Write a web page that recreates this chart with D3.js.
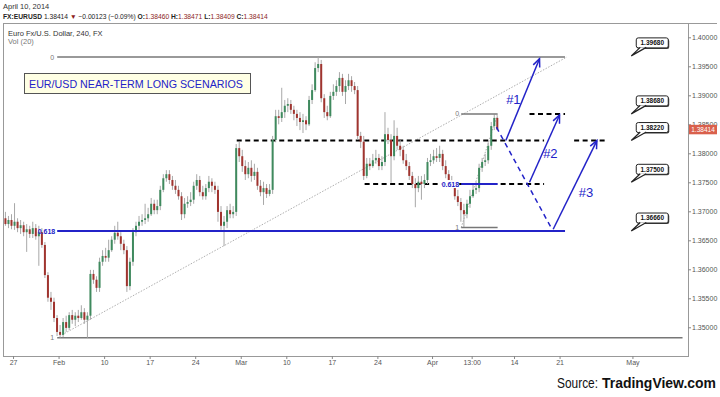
<!DOCTYPE html>
<html><head><meta charset="utf-8">
<script src="https://cdn.jsdelivr.net/npm/d3@7"></script>
<style>
html,body{margin:0;padding:0;background:#fff;}
svg{display:block;font-family:"Liberation Sans",Arial,sans-serif;}
</style></head><body>
<svg id="c" width="720" height="397"></svg>
<script>
// ---------- DATA ----------
// 8-hour candles [open, high, low, close], starting Fri Jan 24, 2014
const candles = [
[1.3688,1.3699,1.3675,1.3678],[1.3678,1.3692,1.3671,1.3685],[1.3685,1.3695,1.3669,1.3675],[1.3675,1.3714,1.3668,1.3682],
[1.3682,1.3688,1.3664,1.3671],[1.3671,1.3685,1.3661,1.3676],[1.3676,1.3682,1.3657,1.3664],[1.3664,1.3678,1.3630,1.3669],
[1.3669,1.3675,1.3654,1.3661],[1.3661,1.3682,1.3654,1.3671],[1.3671,1.3678,1.3651,1.3657],[1.3657,1.3675,1.3606,1.3664],
[1.3664,1.3671,1.3637,1.3642],[1.3642,1.3647,1.3585,1.3590],[1.3590,1.3595,1.3544,1.3551],[1.3551,1.3561,1.3530,1.3544],
[1.3544,1.3551,1.3509,1.3516],[1.3516,1.3521,1.3485,1.3492],[1.3492,1.3504,1.3482,1.3487],[1.3487,1.3516,1.3483,1.3509],
[1.3509,1.3520,1.3492,1.3499],[1.3499,1.3526,1.3495,1.3521],[1.3521,1.3530,1.3506,1.3513],[1.3513,1.3526,1.3502,1.3520],
[1.3520,1.3530,1.3509,1.3516],[1.3516,1.3538,1.3513,1.3526],[1.3526,1.3533,1.3506,1.3513],[1.3513,1.3526,1.3482,1.3520],
[1.3520,1.3599,1.3513,1.3592],[1.3592,1.3599,1.3575,1.3582],[1.3582,1.3588,1.3561,1.3568],[1.3568,1.3620,1.3561,1.3613],
[1.3613,1.3633,1.3606,1.3623],[1.3623,1.3637,1.3613,1.3620],[1.3620,1.3651,1.3613,1.3633],[1.3633,1.3657,1.3630,1.3651],
[1.3651,1.3675,1.3644,1.3663],[1.3663,1.3682,1.3651,1.3657],[1.3657,1.3664,1.3633,1.3644],[1.3644,1.3651,1.3626,1.3633],
[1.3633,1.3640,1.3561,1.3571],[1.3571,1.3620,1.3564,1.3613],[1.3613,1.3671,1.3606,1.3664],[1.3664,1.3682,1.3657,1.3675],
[1.3675,1.3692,1.3668,1.3682],[1.3682,1.3695,1.3675,1.3685],[1.3685,1.3713,1.3678,1.3688],[1.3688,1.3706,1.3682,1.3695],
[1.3695,1.3723,1.3692,1.3713],[1.3713,1.3720,1.3695,1.3702],[1.3702,1.3720,1.3695,1.3709],[1.3709,1.3744,1.3702,1.3737],
[1.3737,1.3764,1.3733,1.3757],[1.3757,1.3771,1.3751,1.3764],[1.3764,1.3771,1.3747,1.3754],[1.3754,1.3761,1.3737,1.3744],
[1.3744,1.3754,1.3730,1.3737],[1.3737,1.3744,1.3720,1.3726],[1.3726,1.3733,1.3685,1.3695],[1.3695,1.3723,1.3688,1.3713],
[1.3713,1.3726,1.3706,1.3716],[1.3716,1.3733,1.3709,1.3720],[1.3720,1.3751,1.3713,1.3744],[1.3744,1.3764,1.3737,1.3754],
[1.3754,1.3761,1.3726,1.3733],[1.3733,1.3744,1.3720,1.3726],[1.3726,1.3747,1.3720,1.3740],[1.3740,1.3761,1.3733,1.3751],
[1.3751,1.3757,1.3733,1.3744],[1.3744,1.3751,1.3730,1.3737],[1.3737,1.3744,1.3682,1.3699],[1.3699,1.3709,1.3668,1.3675],
[1.3675,1.3692,1.3640,1.3682],[1.3682,1.3709,1.3671,1.3702],[1.3702,1.3713,1.3688,1.3695],[1.3695,1.3709,1.3688,1.3699],
[1.3699,1.3816,1.3692,1.3809],[1.3809,1.3820,1.3785,1.3795],[1.3795,1.3806,1.3768,1.3778],[1.3778,1.3788,1.3754,1.3764],
[1.3764,1.3785,1.3757,1.3775],[1.3775,1.3788,1.3751,1.3761],[1.3761,1.3782,1.3754,1.3768],[1.3768,1.3775,1.3737,1.3744],
[1.3744,1.3754,1.3726,1.3733],[1.3733,1.3751,1.3711,1.3740],[1.3740,1.3747,1.3723,1.3730],[1.3730,1.3747,1.3726,1.3737],
[1.3737,1.3830,1.3730,1.3823],[1.3823,1.3875,1.3819,1.3864],[1.3864,1.3875,1.3850,1.3861],[1.3861,1.3913,1.3854,1.3871],
[1.3871,1.3892,1.3861,1.3882],[1.3882,1.3895,1.3871,1.3885],[1.3885,1.3892,1.3868,1.3875],[1.3875,1.3882,1.3857,1.3868],
[1.3868,1.3875,1.3847,1.3861],[1.3861,1.3871,1.3840,1.3854],[1.3854,1.3868,1.3835,1.3857],[1.3857,1.3864,1.3840,1.3850],
[1.3850,1.3899,1.3847,1.3892],[1.3892,1.3919,1.3885,1.3909],[1.3909,1.3957,1.3906,1.3947],[1.3947,1.3966,1.3940,1.3954],
[1.3954,1.3961,1.3888,1.3895],[1.3895,1.3902,1.3861,1.3871],[1.3871,1.3882,1.3857,1.3864],[1.3864,1.3906,1.3861,1.3899],
[1.3899,1.3919,1.3892,1.3906],[1.3906,1.3926,1.3899,1.3916],[1.3916,1.3940,1.3906,1.3930],[1.3930,1.3937,1.3899,1.3906],
[1.3906,1.3926,1.3885,1.3916],[1.3916,1.3937,1.3909,1.3926],[1.3926,1.3933,1.3906,1.3916],[1.3916,1.3923,1.3902,1.3909],
[1.3909,1.3916,1.3823,1.3830],[1.3830,1.3837,1.3809,1.3820],[1.3820,1.3830,1.3754,1.3761],[1.3761,1.3792,1.3757,1.3782],
[1.3782,1.3792,1.3771,1.3778],[1.3778,1.3799,1.3775,1.3788],[1.3788,1.3806,1.3782,1.3792],[1.3792,1.3799,1.3771,1.3778],
[1.3778,1.3795,1.3771,1.3785],[1.3785,1.3871,1.3778,1.3833],[1.3833,1.3844,1.3816,1.3823],[1.3823,1.3833,1.3749,1.3795],
[1.3795,1.3857,1.3788,1.3830],[1.3830,1.3844,1.3806,1.3813],[1.3813,1.3823,1.3795,1.3806],[1.3806,1.3813,1.3782,1.3788],
[1.3788,1.3799,1.3771,1.3778],[1.3778,1.3785,1.3754,1.3761],[1.3761,1.3768,1.3740,1.3747],[1.3747,1.3757,1.3707,1.3740],
[1.3740,1.3761,1.3733,1.3751],[1.3751,1.3761,1.3720,1.3747],[1.3747,1.3764,1.3740,1.3754],[1.3754,1.3792,1.3747,1.3785],
[1.3785,1.3799,1.3778,1.3788],[1.3788,1.3806,1.3782,1.3795],[1.3795,1.3809,1.3785,1.3792],[1.3792,1.3813,1.3785,1.3799],
[1.3799,1.3806,1.3771,1.3778],[1.3778,1.3788,1.3757,1.3764],[1.3764,1.3771,1.3747,1.3754],[1.3754,1.3761,1.3740,1.3747],
[1.3747,1.3754,1.3720,1.3726],[1.3726,1.3737,1.3709,1.3716],[1.3716,1.3723,1.3682,1.3702],[1.3702,1.3713,1.3673,1.3695],
[1.3695,1.3720,1.3688,1.3713],[1.3713,1.3737,1.3706,1.3726],[1.3726,1.3747,1.3723,1.3737],[1.3737,1.3751,1.3730,1.3740],
[1.3740,1.3782,1.3733,1.3775],[1.3775,1.3792,1.3768,1.3785],[1.3785,1.3799,1.3778,1.3788],[1.3788,1.3819,1.3782,1.3813],
[1.3813,1.3854,1.3806,1.3847],[1.3847,1.3867,1.3840,1.3861],[1.3861,1.3864,1.3840,1.3841]
];
const startDay = -1;      // trading-day index of first candle (Mon Jan 27 = 0)
const barsPerDay = 3;
const tickDays = [0,5,10,15,20,25,30,35,40,46,50.35,55,60,68];
const tickLabels = ["27","Feb","10","17","24","Mar","10","17","24","Apr","13:00","14","21","May"];
const priceTicks = [1.35,1.355,1.36,1.365,1.37,1.375,1.38,1.385,1.39,1.395,1.40];
const lastPrice = 1.38414;
const calloutPrices = [1.3968,1.3868,1.3822,1.3750,1.3666];
const calloutLabels = ["1.39680","1.38680","1.38220","1.37500","1.36660"];
// Fibonacci retracement A (Feb low -> Mar high)
const fibALevels = [1.3966,1.3666,1.3482];
const fibALabels = ["0","0.618","1"];
// Fibonacci retracement B (Apr low -> Apr high)
const fibBLevels = [1.3868,1.3747,1.3672];
const fibBLabels = ["0","0.618","1"];
// Dashed support/resistance levels: [fromDay, toDay, price]
const dashedLevels = [[24.56,58.3,1.3822],[38.6,58.3,1.3747],[56.7,60.6,1.3868],[61.6,65.2,1.3822]];
// Scenario arrows: [[day,price],[day,price]]
const arrowSolid = [[[54.1,1.3822],[57.8,1.3963]],[[56.7,1.3750],[60.0,1.3866]],[[59.3,1.3669],[64.1,1.3822]]];
const arrowDashed = [[53.07,1.3845],[59.1,1.3671]];
const arrowLabels = ["#1","#2","#3"];
const arrowLabelPos = [[54.93,1.3892],[58.99,1.3799],[62.9,1.3732]];
// header quote line
const headerParts = ["FX:EURUSD ","1.38414 ","▼ ","−0.00123 (−0.09%) ","O:","1.38460 ","H:","1.38471 ","L:","1.38409 ","C:","1.38414"];

// ---------- CHART ----------
const svg = d3.select("#c");
const L=3, R=688, T=23, B=356;
const x = d3.scaleLinear().domain([-1.1,74.1]).range([L,R]);
const y = d3.scaleLinear().domain([1.34505,1.40247]).range([B,T]);
const blue = "#2323c8";
const dark = "#8b1c1c";

// header
svg.append("text").attr("x",3).attr("y",9).attr("font-size",7.5).attr("fill","#333").text("April 10, 2014");
const hdrStyle = [["#222","bold"],["#222","normal"],[dark,"normal"],["#222","normal"],["#222","bold"],[dark,"normal"],
  ["#222","bold"],[dark,"normal"],["#222","bold"],[dark,"normal"],["#222","bold"],[dark,"normal"]];
const hdr = svg.append("text").attr("x",3).attr("y",18.5).attr("font-size",6.7).attr("xml:space","preserve");
headerParts.forEach((t,i)=>{
  hdr.append("tspan").attr("fill",hdrStyle[i][0]).attr("font-weight",hdrStyle[i][1]).text(t);
});

// frame
svg.append("line").attr("x1",L).attr("x2",717).attr("y1",T+0.5).attr("y2",T+0.5).attr("stroke","#999");
svg.append("rect").attr("x",L+0.5).attr("y",T+0.5).attr("width",R-L).attr("height",B-T).attr("fill","none").attr("stroke","#999");

svg.append("text").attr("x",8).attr("y",35.5).attr("font-size",7.5).attr("fill","#333").text("Euro Fx/U.S. Dollar, 240, FX");
svg.append("text").attr("x",8).attr("y",43.5).attr("font-size",7.5).attr("fill","#777").text("Vol (20)");

// axes
const yAxis = d3.axisRight(y).tickValues(priceTicks).tickFormat(d3.format(".5f")).tickSize(3).tickPadding(1);
const gy = svg.append("g").attr("transform",`translate(${R},0)`).call(yAxis);
gy.select(".domain").remove();
gy.selectAll("line").attr("stroke","#888");
gy.selectAll("text").attr("font-size",7).attr("fill","#555").attr("font-family","Liberation Sans, Arial, sans-serif");

const xAxis = d3.axisBottom(x).tickValues(tickDays).tickFormat((d,i)=>tickLabels[i]).tickSize(3).tickPadding(1);
const gx = svg.append("g").attr("transform",`translate(0,${B})`).call(xAxis);
gx.select(".domain").remove();
gx.selectAll("line").attr("stroke","#888");
gx.selectAll("text").attr("font-size",7).attr("fill","#555").attr("font-family","Liberation Sans, Arial, sans-serif");

// title box
svg.append("rect").attr("x",24.5).attr("y",73.5).attr("width",226).attr("height",20).attr("fill","#ffffe4").attr("stroke","#555");
svg.append("text").attr("x",29).attr("y",88).attr("font-size",11).attr("fill",blue)
  .attr("textLength",214).attr("lengthAdjust","spacingAndGlyphs").text("EUR/USD NEAR-TERM LONG SCENARIOS");

// fib A
const faX0 = x(4.85), faX1 = x(60.6);
svg.append("line").attr("x1",faX0).attr("x2",faX1).attr("y1",y(fibALevels[0])).attr("y2",y(fibALevels[0])).attr("stroke","#777").attr("stroke-width",1.5);
svg.append("line").attr("x1",faX0).attr("x2",x(73.5)).attr("y1",y(fibALevels[2])).attr("y2",y(fibALevels[2])).attr("stroke","#777").attr("stroke-width",1.5);
svg.append("text").attr("x",faX0-3).attr("y",y(fibALevels[0])+2.5).attr("text-anchor","end").attr("font-size",7).attr("fill","#777").text(fibALabels[0]);
svg.append("text").attr("x",faX0-3).attr("y",y(fibALevels[2])+2.5).attr("text-anchor","end").attr("font-size",7).attr("fill","#777").text(fibALabels[2]);

// trend line (dotted)
svg.append("line").attr("x1",x(5.37)).attr("y1",y(1.3487)).attr("x2",x(60.8)).attr("y2",y(1.3966))
  .attr("stroke","#999").attr("stroke-width",0.8).attr("stroke-dasharray","1.5,1.5");
// fib B diagonal
svg.append("line").attr("x1",x(49.2)).attr("y1",y(fibBLevels[2])).attr("x2",x(53.2)).attr("y2",y(fibBLevels[0]))
  .attr("stroke","#999").attr("stroke-width",0.8).attr("stroke-dasharray","1.5,1.5");

// dashed black levels
dashedLevels.forEach(s=>{
  svg.append("line").attr("x1",x(s[0])).attr("x2",x(s[1])).attr("y1",y(s[2])).attr("y2",y(s[2]))
    .attr("stroke","#000").attr("stroke-width",2).attr("stroke-dasharray","5,3.5");
});

// candles
const cg = svg.append("g");
candles.forEach((c,i)=>{
  const cx = x(startDay + (i+0.5)/barsPerDay);
  const up = c[3] >= c[0];
  cg.append("line").attr("x1",cx).attr("x2",cx).attr("y1",y(c[1])).attr("y2",y(c[2])).attr("stroke","#a8a8a8").attr("stroke-width",1);
  const y0 = y(Math.max(c[0],c[3])), y1 = y(Math.min(c[0],c[3]));
  cg.append("rect").attr("x",cx-1).attr("width",2).attr("y",y0).attr("height",Math.max(1,y1-y0))
    .attr("fill",up?"#3f8a5e":"#a0342f");
});

// blue 0.618 line A
svg.append("line").attr("x1",faX0).attr("x2",faX1).attr("y1",y(fibALevels[1])).attr("y2",y(fibALevels[1])).attr("stroke",blue).attr("stroke-width",2);
svg.append("text").attr("x",faX0-2).attr("y",y(fibALevels[1])+2.5).attr("text-anchor","end").attr("font-size",7).attr("font-weight","bold").attr("fill",blue).text(fibALabels[1]);

// fib B
const fbX0 = x(49.2), fbX1 = x(53.2);
[0,2].forEach(k=>{
  svg.append("line").attr("x1",fbX0).attr("x2",fbX1).attr("y1",y(fibBLevels[k])).attr("y2",y(fibBLevels[k])).attr("stroke","#777").attr("stroke-width",1.5);
  svg.append("text").attr("x",fbX0-2).attr("y",y(fibBLevels[k])+2.5).attr("text-anchor","end").attr("font-size",7).attr("fill","#777").text(fibBLabels[k]);
});
svg.append("line").attr("x1",fbX0).attr("x2",fbX1).attr("y1",y(fibBLevels[1])).attr("y2",y(fibBLevels[1])).attr("stroke",blue).attr("stroke-width",2);
svg.append("rect").attr("x",fbX0-20).attr("y",y(fibBLevels[1])-4).attr("width",18).attr("height",8).attr("fill","#fff");
svg.append("text").attr("x",fbX0-2).attr("y",y(fibBLevels[1])+2.5).attr("text-anchor","end").attr("font-size",7).attr("font-weight","bold").attr("fill",blue).text(fibBLabels[1]);

// arrows
const defs = svg.append("defs");
defs.append("marker").attr("id","ah").attr("markerUnits","userSpaceOnUse").attr("markerWidth",12).attr("markerHeight",12)
  .attr("viewBox","-10 -6 12 12").attr("refX",0).attr("refY",0).attr("orient","auto")
  .append("path").attr("d","M-8,-3.5 L0,0 L-8,3.5").attr("fill","none").attr("stroke",blue).attr("stroke-width",1.5);
arrowSolid.forEach(a=>{
  svg.append("line").attr("x1",x(a[0][0])).attr("y1",y(a[0][1])).attr("x2",x(a[1][0])).attr("y2",y(a[1][1]))
    .attr("stroke",blue).attr("stroke-width",1.5).attr("marker-end","url(#ah)");
});
svg.append("line").attr("x1",x(arrowDashed[0][0])).attr("y1",y(arrowDashed[0][1])).attr("x2",x(arrowDashed[1][0])).attr("y2",y(arrowDashed[1][1]))
  .attr("stroke",blue).attr("stroke-width",1.5).attr("stroke-dasharray","5,4");
arrowLabels.forEach((t,i)=>{
  svg.append("text").attr("x",x(arrowLabelPos[i][0])).attr("y",y(arrowLabelPos[i][1])+4.5).attr("text-anchor","middle")
    .attr("font-size",13).attr("fill",blue).text(t);
});

// callouts
const tipX = x(67.87);
calloutPrices.forEach((p,i)=>{
  const ty = y(p), bx = tipX+5, by = ty-18, bw = 32, bh = 10;
  svg.append("rect").attr("x",bx+1).attr("y",by+1).attr("width",bw).attr("height",bh).attr("rx",2).attr("fill","#444");
  svg.append("rect").attr("x",bx).attr("y",by).attr("width",bw).attr("height",bh).attr("rx",2).attr("fill","#fff").attr("stroke","#222").attr("stroke-width",1);
  svg.append("path").attr("d",`M${bx+4},${by+bh-0.5} L${tipX},${ty} L${bx+10},${by+bh-0.5}`)
    .attr("fill","#fff").attr("stroke","#222").attr("stroke-width",1.2);
  svg.append("text").attr("x",bx+bw/2).attr("y",by+7.3).attr("text-anchor","middle").attr("font-size",6.5).attr("font-weight","bold").attr("fill","#111").text(calloutLabels[i]);
});

// last price label (covers part of the 1.38500 tick label, as in the original)
svg.append("rect").attr("x",R+1).attr("y",y(lastPrice)-4.5).attr("width",28).attr("height",9.5).attr("fill","#d9604c");
svg.append("text").attr("x",R+15).attr("y",y(lastPrice)+2.5).attr("text-anchor","middle").attr("font-size",6.5).attr("fill","#fff").text(d3.format(".5f")(lastPrice));

// source
svg.append("text").attr("x",557).attr("y",388).attr("font-size",14).attr("fill","#111")
  .attr("font-family","Liberation Sans Narrow, Liberation Sans, Arial, sans-serif")
  .attr("textLength",41).attr("lengthAdjust","spacingAndGlyphs").text("Source:");
svg.append("text").attr("x",602).attr("y",388).attr("font-size",14).attr("fill","#111").attr("font-weight","bold")
  .attr("font-family","Liberation Sans Narrow, Liberation Sans, Arial, sans-serif")
  .attr("textLength",114).attr("lengthAdjust","spacingAndGlyphs").text("TradingView.com");
</script>
</body></html>
